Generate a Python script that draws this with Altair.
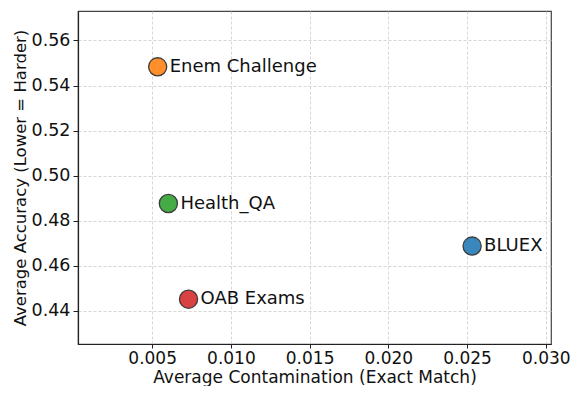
import altair as alt
import pandas as pd

names = ["BLUEX", "Enem Challenge", "Health_QA", "OAB Exams"]
contamination = [0.02532, 0.00535, 0.00603, 0.00731]
accuracy = [0.4687, 0.5483, 0.4876, 0.4451]
colors = ["#1f77b4", "#ff7f0e", "#2ca02c", "#d62728"]
x_ticks = [0.005, 0.010, 0.015, 0.020, 0.025, 0.030]
y_ticks = [0.44, 0.46, 0.48, 0.50, 0.52, 0.54, 0.56]

df = pd.DataFrame({"name": names, "x": contamination, "y": accuracy, "color": colors})

FONT = "DejaVu Sans"

xenc = alt.X("x:Q", scale=alt.Scale(domain=[0.00029, 0.03033], nice=False, zero=False),
             axis=alt.Axis(values=x_ticks, format=".3f", title="Average Contamination (Exact Match)",
                           labelPadding=2, titlePadding=3, tickSize=4, labelFontSize=17,
                           titleFontSize=17))
yenc = alt.Y("y:Q", scale=alt.Scale(domain=[0.4252, 0.5731], nice=False, zero=False),
             axis=alt.Axis(values=y_ticks, format=".2f", title="Average Accuracy (Lower = Harder)",
                           titlePadding=3, labelPadding=3, labelFontSize=17.5, titleFontSize=16.5))

points = alt.Chart(df).mark_point(filled=True, size=330, opacity=0.88, stroke="#222222",
                                   strokeWidth=1.3, strokeOpacity=1).encode(
    x=xenc, y=yenc, color=alt.Color("color:N", scale=None)
)
labels = alt.Chart(df).mark_text(align="left", baseline="middle", dx=12, font=FONT,
                                  fontSize=18, color="#111111").encode(
    x="x:Q", y="y:Q", text="name:N"
)

chart = (points + labels).properties(
    width=473, height=333, autosize="none",
    padding={"left": 70, "top": 3, "right": 20, "bottom": 42},
).configure_view(stroke="#444444", strokeWidth=1.2).configure_axis(
    labelFont=FONT, titleFont=FONT,
    titleFontWeight="normal", labelColor="#111111", titleColor="#111111",
    grid=True, gridColor="#cccccc", gridDash=[3, 2], gridWidth=0.8,
    domainColor="#222222", domainWidth=1.2, tickColor="#222222", tickSize=5, tickWidth=1,
)

chart.save("out.html", embed_options={"renderer": "svg", "actions": False})
